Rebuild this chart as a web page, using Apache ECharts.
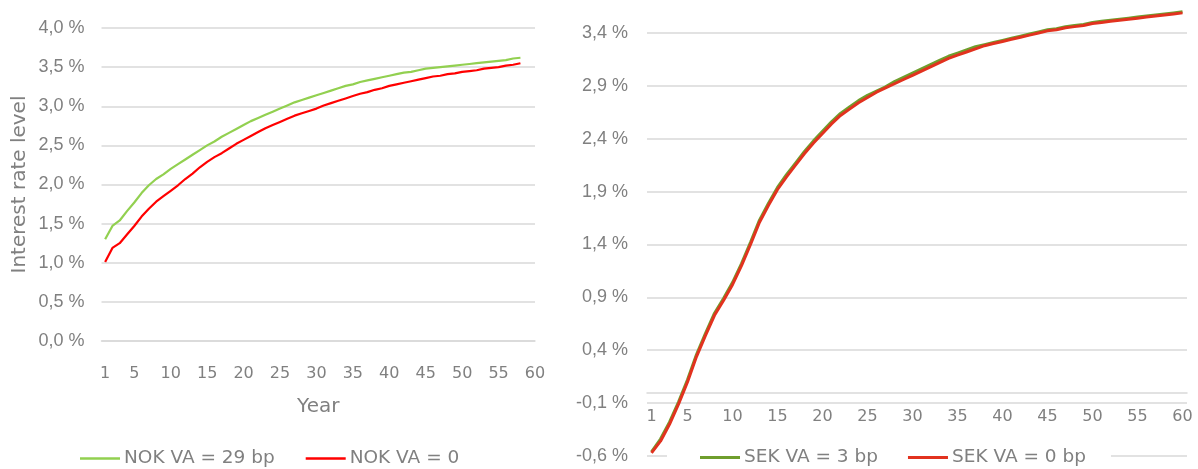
<!DOCTYPE html>
<html>
<head>
<meta charset="utf-8">
<script src="https://cdn.jsdelivr.net/npm/echarts@6/dist/echarts.min.js"></script>
<style>
html,body{margin:0;padding:0;background:#fff;}
#c{width:1198px;height:469px;}
</style>
</head>
<body>
<div id="c"></div>
<script>
// ---- data ----
var nokYears = [];
for (var i = 1; i <= 58; i++) nokYears.push(i);
var sekYears = [];
for (var j = 1; j <= 60; j++) sekYears.push(j);

var nokVA29 = [1.30,1.47,1.54,1.66,1.77,1.89,1.99,2.07,2.13,2.20,
  2.26,2.32,2.38,2.44,2.50,2.55,2.61,2.66,2.71,2.76,
  2.81,2.85,2.89,2.93,2.97,3.01,3.05,3.08,3.11,3.14,
  3.17,3.20,3.23,3.26,3.28,3.31,3.33,3.35,3.37,3.39,
  3.41,3.43,3.44,3.46,3.48,3.49,3.50,3.51,3.52,3.53,
  3.54,3.55,3.56,3.57,3.58,3.59,3.61,3.62];
var nokVA0 = [1.01,1.19,1.25,1.36,1.47,1.59,1.69,1.78,1.85,1.92,
  1.99,2.07,2.14,2.22,2.29,2.35,2.40,2.46,2.52,2.57,
  2.62,2.67,2.72,2.76,2.80,2.84,2.88,2.91,2.94,2.97,
  3.01,3.04,3.07,3.10,3.13,3.16,3.18,3.21,3.23,3.26,
  3.28,3.30,3.32,3.34,3.36,3.38,3.39,3.41,3.42,3.44,
  3.45,3.46,3.48,3.49,3.50,3.52,3.53,3.55];
var sekVA3 = [-0.56,-0.44,-0.28,-0.09,0.12,0.36,0.56,0.75,0.89,1.04,
  1.22,1.42,1.63,1.79,1.94,2.06,2.17,2.28,2.38,2.47,
  2.56,2.64,2.70,2.76,2.81,2.85,2.89,2.94,2.98,3.02,
  3.06,3.10,3.14,3.18,3.21,3.24,3.27,3.29,3.31,3.33,
  3.35,3.37,3.39,3.41,3.43,3.44,3.46,3.47,3.48,3.50,
  3.51,3.52,3.53,3.54,3.55,3.56,3.57,3.58,3.59,3.60];
var sekVA0 = [-0.57,-0.46,-0.30,-0.11,0.10,0.34,0.54,0.73,0.87,1.02,
  1.20,1.40,1.61,1.77,1.92,2.04,2.15,2.26,2.36,2.45,
  2.54,2.62,2.68,2.74,2.79,2.84,2.88,2.92,2.96,3.00,
  3.04,3.08,3.12,3.16,3.19,3.22,3.25,3.28,3.30,3.32,
  3.34,3.36,3.38,3.40,3.42,3.43,3.45,3.46,3.47,3.49,
  3.50,3.51,3.52,3.53,3.54,3.55,3.56,3.57,3.58,3.59];

var xTickLabels = [1,5,10,15,20,25,30,35,40,45,50,55,60];
var nokYTicks = [0,0.5,1,1.5,2,2.5,3,3.5,4];
var sekYTicks = [-0.6,-0.1,0.4,0.9,1.4,1.9,2.4,2.9,3.4,3.9];

var seriesNames = ['NOK VA = 29 bp','NOK VA = 0','SEK VA = 3 bp','SEK VA = 0 bp'];

function pairs(xs, ys){ return ys.map(function(v,k){ return [xs[k], v]; }); }
function pct(v){ return v.toFixed(1).replace('.', ',') + ' %'; }

var grey = '#808080';
var gridCol = '#d9d9d9';

var chart = echarts.init(document.getElementById('c'), null, {renderer:'canvas'});
chart.setOption({
  animation: false,
  backgroundColor: '#fff',
  grid: [
    {left: 101.5, right: 663, top: 28, bottom: 128, outerBoundsMode: 'none', containLabel: false},
    {left: 647, right: 11, top: -19.9, bottom: 13, outerBoundsMode: 'none', containLabel: false}
  ],
  xAxis: [
    {
      gridIndex: 0, type: 'value', min: 0.5, max: 60,
      name: 'Year', nameLocation: 'middle', nameGap: 56,
      nameTextStyle: {fontFamily: 'DejaVu Sans', fontSize: 20, color: grey},
      axisLine: {show: true, onZero: false, lineStyle: {color: gridCol, width: 1.5}},
      axisTick: {show: false, customValues: xTickLabels},
      splitLine: {show: false},
      axisLabel: {customValues: xTickLabels, margin: 25, fontFamily: 'DejaVu Sans', fontSize: 16, color: grey}
    },
    {
      gridIndex: 1, type: 'value', min: 0.5, max: 60.5,
      position: 'bottom', offset: -63.5,
      axisLine: {show: true, onZero: false, lineStyle: {color: gridCol, width: 1.5}},
      axisTick: {show: false, customValues: xTickLabels},
      splitLine: {show: false},
      axisLabel: {customValues: xTickLabels, margin: 16, fontFamily: 'DejaVu Sans', fontSize: 16, color: grey}
    }
  ],
  yAxis: [
    {
      gridIndex: 0, type: 'value', min: 0, max: 4, interval: 0.5,
      name: 'Interest rate level', nameLocation: 'middle', nameGap: 71.5, nameRotate: 90,
      nameTextStyle: {fontFamily: 'DejaVu Sans', fontSize: 20, color: grey},
      axisLine: {show: false}, axisTick: {show: false},
      splitLine: {show: true, lineStyle: {color: gridCol, width: 1.5}},
      axisLabel: {margin: 17, fontFamily: 'Liberation Sans', fontSize: 18, color: grey, formatter: pct}
    },
    {
      gridIndex: 1, type: 'value', min: -0.6, max: 3.9,
      axisLine: {show: false},
      axisTick: {show: false, customValues: sekYTicks},
      splitLine: {show: true, lineStyle: {color: gridCol, width: 1.5}},
      axisLabel: {customValues: sekYTicks, margin: 19, fontFamily: 'Liberation Sans', fontSize: 18, color: grey, formatter: pct}
    }
  ],
  legend: [
    {
      data: [seriesNames[0], seriesNames[1]],
      left: 80, top: 449, padding: 0,
      icon: 'rect', itemWidth: 40, itemHeight: 2.5, itemGap: 31,
      textStyle: {fontFamily: 'DejaVu Sans', fontSize: 18.5, color: grey, padding: [0,0,0,-1]}
    },
    {
      data: [seriesNames[2], seriesNames[3]],
      left: 667, top: 443, padding: [5, 25, 6, 33],
      backgroundColor: '#fff',
      icon: 'rect', itemWidth: 40, itemHeight: 3, itemGap: 30,
      textStyle: {fontFamily: 'DejaVu Sans', fontSize: 18.5, color: grey, padding: [0,0,0,-1]}
    }
  ],
  series: [
    {name: seriesNames[0], type: 'line', xAxisIndex: 0, yAxisIndex: 0, data: pairs(nokYears, nokVA29),
     symbol: 'none', lineStyle: {color: '#92d050', width: 2.2}, itemStyle: {color: '#92d050'}},
    {name: seriesNames[1], type: 'line', xAxisIndex: 0, yAxisIndex: 0, data: pairs(nokYears, nokVA0),
     symbol: 'none', lineStyle: {color: '#ff0000', width: 2.2}, itemStyle: {color: '#ff0000'}},
    {name: seriesNames[2], type: 'line', xAxisIndex: 1, yAxisIndex: 1, data: pairs(sekYears, sekVA3),
     symbol: 'none', lineStyle: {color: '#6f9e2d', width: 3}, itemStyle: {color: '#6f9e2d'}},
    {name: seriesNames[3], type: 'line', xAxisIndex: 1, yAxisIndex: 1, data: pairs(sekYears, sekVA0),
     symbol: 'none', lineStyle: {color: '#e2321f', width: 3}, itemStyle: {color: '#e2321f'}}
  ]
});
</script>
</body>
</html>
